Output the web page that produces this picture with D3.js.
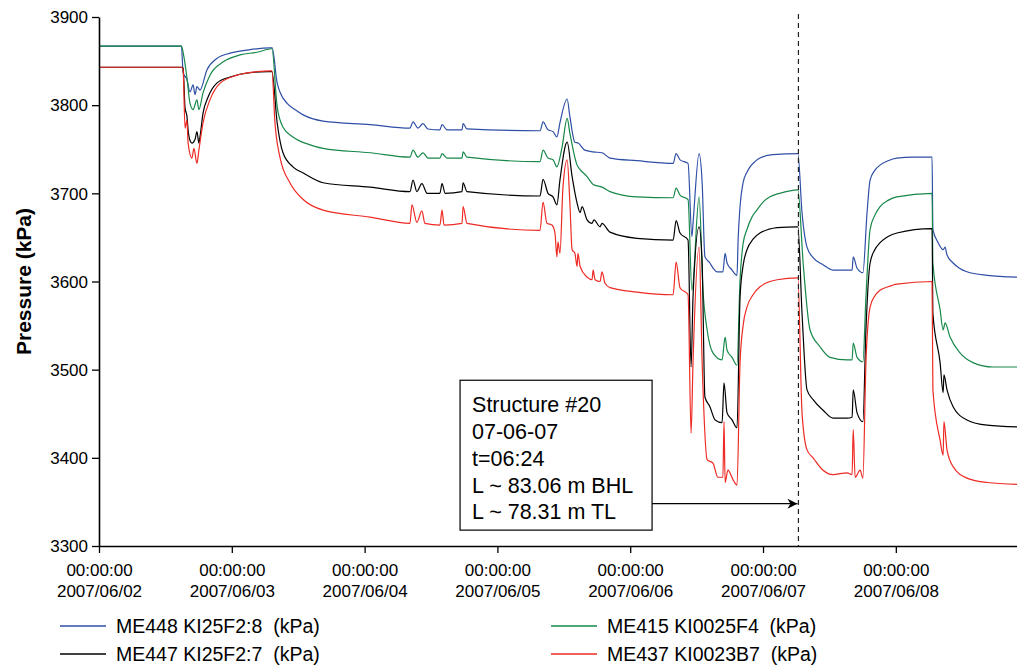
<!DOCTYPE html>
<html>
<head>
<meta charset="utf-8">
<script src="https://cdn.jsdelivr.net/npm/d3@7"></script>
<style>
  html, body { margin: 0; padding: 0; background: #fff; }
  svg { display: block; font-family: "Liberation Sans", Arial, sans-serif; }
</style>
</head>
<body>
<svg id="chart" width="1017" height="666"></svg>
<script>
// ---- data: [hours since 2007/06/02 00:00, pressure kPa] ----
const seriesNames = ["ME448 KI25F2:8  (kPa)", "ME415 KI0025F4  (kPa)", "ME447 KI25F2:7  (kPa)", "ME437 KI0023B7  (kPa)"];
const seriesColors = ["#2f4fa6", "#17884a", "#000000", "#ee2a24"];

const me448 = [[0,3867],[14.9,3867],[15.2,3837],[15.9,3829],[16.45,3815],[17.0,3823],[17.35,3812],[17.7,3821],[18.25,3817],[19.5,3840],[21.3,3853],[23.7,3859],[27.3,3863],[30.9,3865],[31.3,3865],[32.2,3825],[32.7,3815],[34.0,3802],[35.4,3795],[36.9,3789],[40.5,3782],[49.0,3778],[56.2,3774],[56.75,3781],[57.65,3774],[58.55,3779],[59.45,3773],[61.6,3772],[62.0,3778],[62.9,3772],[65.6,3772],[65.8,3779],[66.5,3773],[79.7,3771],[80.25,3781],[81.15,3772],[82.05,3770],[82.75,3764],[83.3,3780],[84.6,3807],[85.1,3787],[86.0,3758],[86.6,3757],[87.8,3749],[89.3,3747],[90.9,3746],[92.35,3740],[97.2,3737],[103.75,3734],[104.3,3745],[105.0,3738],[106.45,3734],[107.15,3651],[107.35,3666],[108.45,3745],[109.0,3712],[109.5,3628],[110.4,3621],[111.0,3615],[111.7,3611],[112.75,3611],[113.15,3632],[113.5,3621],[114.4,3613],[115.3,3607],[115.5,3647],[115.85,3685],[116.4,3712],[117.1,3724],[117.65,3730],[118.55,3736],[119.45,3740],[121.8,3744],[126.3,3745],[127.05,3678],[127.95,3639],[129.05,3627],[130.85,3619],[132.65,3613],[134.45,3613],[136.1,3613],[136.3,3628],[137.0,3615],[138.05,3610],[138.8,3678],[139.35,3715],[140.2,3726],[141.15,3732],[142.6,3737],[144.2,3740],[147.1,3741],[150.55,3741],[150.7,3659],[151.65,3644],[152.55,3636],[152.9,3639],[153.25,3630],[154.35,3621],[155.5,3615],[156.85,3611],[160.5,3607],[165.9,3605]];

const me415 = [[0,3867],[14.9,3867],[15.2,3860],[15.9,3831],[16.45,3802],[17.0,3795],[17.7,3806],[18.05,3795],[18.8,3814],[20.05,3834],[22.4,3849],[25.5,3857],[28.55,3860],[31.25,3864],[32.2,3798],[33.25,3775],[35.05,3764],[38.15,3755],[40.5,3751],[49.0,3746],[56.2,3741],[56.75,3749],[57.65,3741],[58.55,3746],[59.45,3740],[61.6,3740],[62.0,3745],[62.9,3740],[65.6,3740],[65.8,3747],[66.5,3741],[79.7,3736],[80.25,3749],[81.15,3740],[82.05,3738],[82.75,3730],[83.7,3753],[84.6,3785],[85.1,3768],[86.4,3732],[86.95,3727],[88.2,3719],[89.3,3710],[90.9,3707],[92.35,3702],[97.2,3696],[103.75,3695],[104.3,3706],[105.0,3698],[106.45,3693],[107.15,3590],[108.45,3696],[109.15,3590],[109.9,3545],[110.95,3519],[112.6,3511],[113.15,3537],[113.5,3522],[114.4,3514],[115.3,3505],[115.85,3602],[116.4,3643],[117.1,3659],[118.0,3673],[118.9,3681],[120.0,3690],[121.25,3696],[123.0,3700],[126.3,3704],[127.25,3621],[128.5,3545],[130.3,3526],[132.1,3514],[135.2,3511],[136.1,3511],[136.3,3530],[137.0,3514],[138.05,3509],[138.6,3582],[139.35,3659],[140.2,3675],[141.15,3685],[142.6,3692],[144.2,3696],[150.55,3700],[150.7,3621],[152.0,3568],[152.55,3545],[152.9,3553],[153.8,3537],[155.6,3519],[157.95,3508],[161.55,3503],[165.9,3503]];

const me447 = [[0,3843],[14.9,3843],[15.2,3842],[15.55,3797],[15.9,3787],[16.1,3772],[16.45,3760],[16.8,3757],[17.35,3761],[17.7,3770],[18.05,3757],[18.25,3764],[18.8,3791],[19.7,3809],[21.3,3825],[23.7,3832],[27.3,3837],[30.6,3838],[31.25,3838],[32.2,3780],[33.25,3746],[35.05,3730],[36.9,3723],[40.5,3712],[49.0,3707],[56.2,3702],[56.75,3715],[57.45,3702],[58.35,3711],[59.3,3700],[61.6,3700],[62.0,3711],[62.55,3700],[65.6,3702],[65.8,3712],[66.5,3702],[79.7,3697],[80.25,3716],[81.15,3700],[82.05,3696],[82.75,3687],[83.3,3715],[84.6,3758],[85.5,3719],[86.4,3689],[86.95,3678],[87.3,3685],[88.2,3670],[89.1,3666],[89.45,3670],[90.55,3662],[90.9,3666],[92.35,3656],[97.2,3649],[103.75,3647],[104.3,3669],[105.0,3655],[106.45,3647],[107.0,3503],[107.35,3582],[108.45,3662],[109.0,3621],[109.5,3469],[110.4,3458],[111.35,3443],[112.6,3440],[112.95,3485],[113.5,3451],[114.4,3443],[115.3,3434],[115.85,3582],[116.4,3618],[117.1,3636],[118.2,3648],[119.45,3655],[122.55,3661],[126.3,3662],[127.05,3564],[127.95,3477],[129.05,3466],[130.85,3454],[132.65,3445],[135.2,3445],[136.1,3446],[136.3,3477],[137.0,3451],[138.05,3441],[138.6,3545],[139.35,3621],[140.2,3636],[141.15,3644],[142.6,3651],[144.2,3655],[150.55,3660],[150.7,3564],[152.0,3508],[152.55,3474],[152.7,3494],[153.25,3477],[154.35,3458],[156.85,3443],[160.5,3437],[165.9,3435]];

const me437 = [[0,3843],[14.9,3843],[15.2,3840],[15.55,3774],[15.9,3783],[16.1,3757],[16.8,3740],[17.15,3751],[17.7,3734],[18.05,3749],[18.8,3780],[20.05,3806],[21.9,3825],[24.95,3834],[28.55,3838],[31.25,3839],[31.8,3780],[32.7,3741],[34.5,3712],[36.9,3693],[40.5,3681],[49.0,3673],[56.2,3666],[56.55,3687],[57.45,3667],[58.35,3680],[58.9,3666],[61.6,3664],[62.0,3681],[62.35,3664],[65.6,3666],[65.8,3685],[66.5,3666],[79.7,3658],[80.25,3690],[80.95,3666],[81.85,3664],[82.4,3655],[82.75,3628],[82.95,3645],[83.3,3632],[83.85,3707],[84.6,3738],[85.1,3689],[85.5,3636],[86.0,3632],[86.4,3617],[86.55,3632],[86.95,3617],[88.2,3605],[89.1,3602],[89.3,3613],[89.65,3602],[90.55,3600],[90.9,3611],[91.45,3598],[92.35,3593],[97.2,3588],[103.75,3585],[104.3,3622],[105.0,3593],[106.45,3585],[107.0,3428],[107.35,3508],[108.45,3639],[109.0,3508],[109.9,3398],[110.95,3394],[111.85,3378],[112.75,3378],[112.95,3441],[113.15,3372],[113.65,3386],[114.6,3375],[115.3,3369],[115.85,3508],[116.4,3550],[117.1,3571],[118.2,3585],[119.45,3594],[122.55,3602],[126.3,3604],[127.05,3451],[127.95,3409],[129.05,3400],[130.85,3386],[132.65,3381],[135.2,3383],[136.1,3381],[136.3,3432],[136.65,3378],[137.55,3386],[138.05,3377],[138.6,3508],[139.35,3571],[140.25,3584],[141.15,3590],[142.6,3594],[144.2,3597],[150.55,3600],[150.7,3477],[152.0,3420],[152.55,3403],[152.7,3441],[153.25,3409],[154.35,3390],[156.85,3377],[160.5,3372],[165.9,3370]];

const yTicks = [3300, 3400, 3500, 3600, 3700, 3800, 3900];
const xTickDays = [0, 1, 2, 3, 4, 5, 6];
const xTickTimeLabel = "00:00:00";
const annotationLines = ["Structure #20", "07-06-07", "t=06:24", "L ~ 83.06 m BHL", "L ~ 78.31 m TL"];
const annotationHour = 126.4;     // 2007/06/07 06:24
const yLabel = "Pressure (kPa)";

// ---- chart ----
const svg = d3.select("#chart");
const W = 1017, H = 666;
const m = {left: 99, right: 0, top: 17, bottom: 120};
const base = new Date(2007, 5, 2, 0, 0, 0);
const toDate = h => new Date(base.getTime() + h * 3600e3);

const x = d3.scaleTime().domain([toDate(0), toDate(165.9)]).range([m.left, W - m.right]);
const y = d3.scaleLinear().domain([3300, 3900]).range([H - m.bottom, m.top]);

svg.append("rect").attr("width", W).attr("height", H).attr("fill", "#fff");

// series
const line = d3.line().x(d => x(toDate(d[0]))).y(d => y(d[1])).curve(d3.curveMonotoneX);
const allSeries = [me448, me415, me447, me437];
svg.append("g").selectAll("path").data(allSeries).join("path")
  .attr("d", line)
  .attr("fill", "none")
  .attr("stroke", (d, i) => seriesColors[i])
  .attr("stroke-width", 1.2)
  .attr("stroke-linejoin", "round");

// dashed marker line
svg.append("line")
  .attr("x1", x(toDate(annotationHour))).attr("x2", x(toDate(annotationHour)))
  .attr("y1", y(3900) - 3).attr("y2", y(3300))
  .attr("stroke", "#222").attr("stroke-width", 1.2)
  .attr("stroke-dasharray", "5,4");

// annotation box
const bx0 = x(toDate(65.25)), bx1 = x(toDate(99.95));
const by0 = y(3488), by1 = y(3318);
svg.append("rect").attr("x", bx0).attr("y", by0)
  .attr("width", bx1 - bx0).attr("height", by1 - by0)
  .attr("fill", "#fff").attr("stroke", "#000").attr("stroke-width", 1.2);
svg.append("g").selectAll("text").data(annotationLines).join("text")
  .attr("x", bx0 + 12)
  .attr("y", (d, i) => by0 + 32 + i * 26.8)
  .attr("font-size", 21.5)
  .attr("fill", "#000")
  .text(d => d);

// arrow
svg.append("defs").append("marker")
  .attr("id", "arr").attr("viewBox", "0 0 10 10").attr("refX", 10).attr("refY", 5)
  .attr("markerWidth", 12).attr("markerHeight", 10).attr("markerUnits", "userSpaceOnUse")
  .attr("orient", "auto")
  .append("path").attr("d", "M0,0 L10,5 L0,10 L3,5 Z").attr("fill", "#000");
svg.append("line")
  .attr("x1", bx1).attr("x2", x(toDate(annotationHour)) - 1)
  .attr("y1", y(3348)).attr("y2", y(3348))
  .attr("stroke", "#000").attr("stroke-width", 1.2)
  .attr("marker-end", "url(#arr)");

// y axis
const yAxis = svg.append("g").attr("transform", `translate(${m.left},0)`)
  .call(d3.axisLeft(y).tickValues(yTicks).tickSize(7).tickSizeOuter(0).tickFormat(d3.format("d")));
yAxis.select(".domain").attr("stroke", "#000").attr("stroke-width", 1.6);
yAxis.selectAll(".tick line").attr("stroke", "#000").attr("stroke-width", 1.3);
yAxis.selectAll(".tick text").attr("font-size", 17).attr("font-family", "'Liberation Sans', Arial, sans-serif")
  .attr("fill", "#000").attr("x", -11).attr("dy", "0.34em");

// x axis
const xAxis = svg.append("g").attr("transform", `translate(0,${y(3300)})`)
  .call(d3.axisBottom(x).tickValues(xTickDays.map(d => toDate(d * 24))).tickSize(7).tickSizeOuter(0).tickFormat(() => ""));
xAxis.select(".domain").attr("stroke", "#000").attr("stroke-width", 1.6);
xAxis.selectAll(".tick line").attr("stroke", "#000").attr("stroke-width", 1.3);
const fmtDate = d3.timeFormat("%Y/%m/%d");
xAxis.selectAll(".tick text").each(function(d) {
  const t = d3.select(this).attr("y", 0).attr("dy", null)
    .attr("font-size", 17).attr("font-family", "'Liberation Sans', Arial, sans-serif").attr("fill", "#000");
  t.append("tspan").attr("x", 0).attr("y", 30).text(xTickTimeLabel);
  t.append("tspan").attr("x", 0).attr("y", 51).text(fmtDate(d));
});

// y label
svg.append("text")
  .attr("transform", `translate(31,${(y(3300) + y(3900)) / 2}) rotate(-90)`)
  .attr("text-anchor", "middle")
  .attr("font-size", 21).attr("font-weight", "bold").attr("fill", "#000")
  .text(yLabel);

// legend
const legendPos = [[60, 626], [551, 626], [60, 654], [551, 654]];
const lg = svg.append("g").selectAll("g").data(seriesNames).join("g")
  .attr("transform", (d, i) => `translate(${legendPos[i][0]},${legendPos[i][1]})`);
lg.append("line").attr("x1", 0).attr("x2", 46).attr("y1", 0).attr("y2", 0)
  .attr("stroke", (d, i) => seriesColors[i]).attr("stroke-width", 1.4);
lg.append("text").attr("x", 56).attr("y", 7).attr("font-size", 19.5)
  .style("white-space", "pre").attr("fill", "#000").text(d => d);
</script>
</body>
</html>
